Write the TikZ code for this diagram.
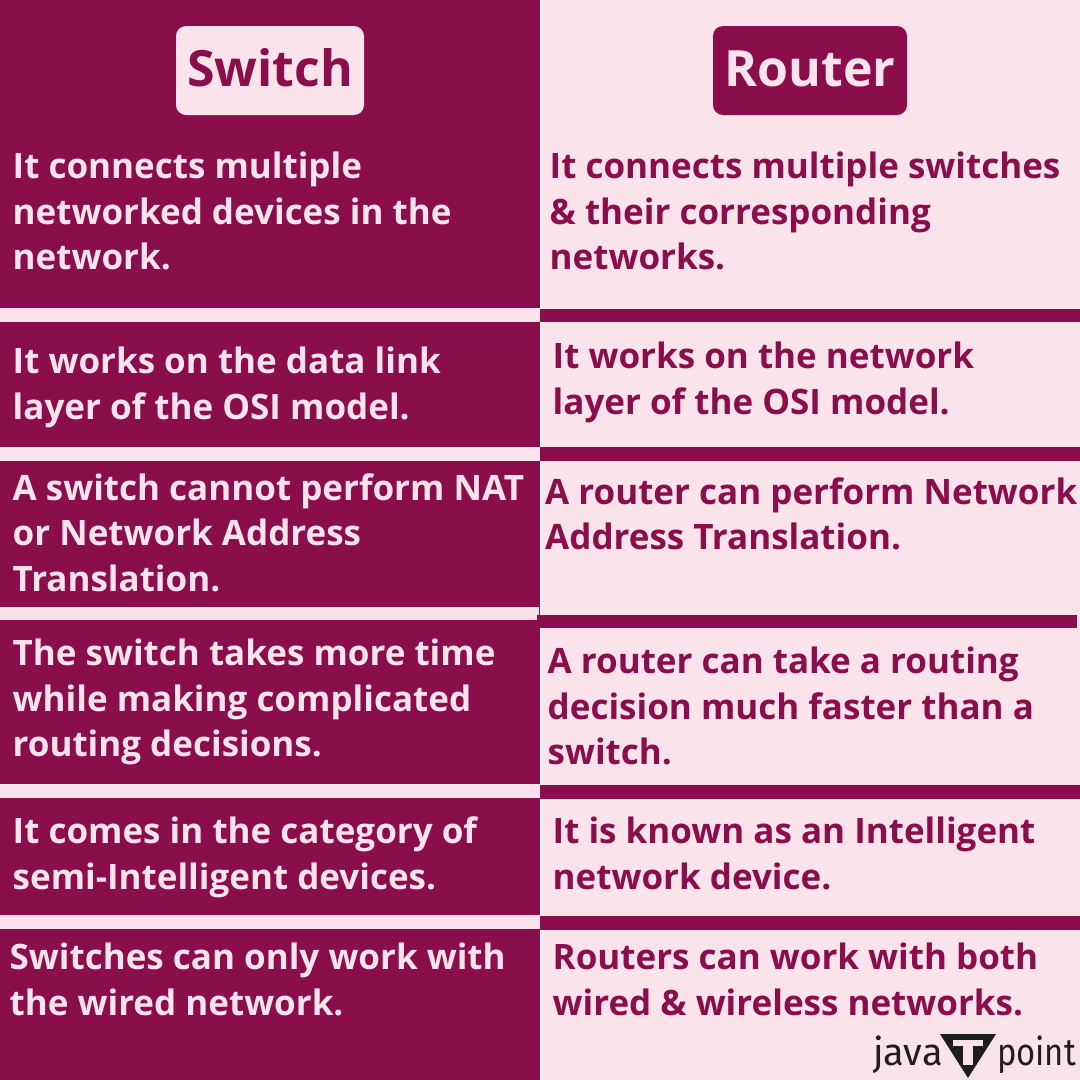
\documentclass[tikz,border=0pt]{standalone}
\usepackage{fontspec}
\setmainfont{Open Sans}
\newfontfamily\logofont{Fira Sans}
\definecolor{plum}{HTML}{8A0D4C}
\definecolor{blush}{HTML}{FBE3EB}
\definecolor{logoink}{HTML}{1E1E1E}
\tikzset{
  cell/.style={anchor=base west,align=left,inner sep=0pt,font=\fontsize{35}{45.5}\selectfont\bfseries},
  leftcell/.style={cell,text=blush},
  rightcell/.style={cell,text=plum},
  headbox/.style={rounded corners=10pt,inner sep=0pt,minimum height=89pt,text height=37pt,text depth=5pt,font=\fontsize{50}{56}\selectfont\bfseries},
  logotext/.style={inner sep=0pt,anchor=base west,text=logoink,font=\fontsize{38}{40}\logofont\selectfont}
}
\begin{document}
\begin{tikzpicture}[x=1pt,y=-1pt]
  \useasboundingbox (0,0) rectangle (1080,1080);

  % columns
  \fill[white] (0,0) rectangle (1080,1080);
  \fill[plum] (0,0) rectangle (540,1080);
  \fill[blush] (541,0) rectangle (1080,1080);

  % bars between the rows
  \fill[blush] (0,308) rectangle (540,322);
  \fill[blush] (0,447) rectangle (540,461);
  \fill[blush] (0,607) rectangle (539,620);
  \fill[blush] (0,784) rectangle (540,798);
  \fill[blush] (0,915) rectangle (540,929);

  \fill[plum] (540,309) rectangle (1080,322);
  \fill[plum] (540,447) rectangle (1080,461);
  \fill[plum] (537,615) rectangle (1077,628);
  \fill[plum] (540,785) rectangle (1080,799);
  \fill[plum] (540,916) rectangle (1080,930);

  % headings
  \node (SWITCH) at (270,70.5) [headbox,fill=blush,text=plum,minimum width=188pt] {Switch};
  \node (ROUTER) at (810,70.5) [headbox,fill=plum,text=blush,minimum width=194pt] {Router};

  % left column
  \node (L1) at (12.5,269.5) [leftcell] {It connects multiple\\networked devices in the\\network.};
  \node (L2) at (12.5,419) [leftcell] {It works on the data link\\layer of the OSI model.};
  \node (L3) at (12.5,591) [leftcell] {A switch cannot perform NAT\\or Network Address\\Translation.};
  \node (L4) at (12.5,756.5) [leftcell] {The switch takes more time\\while making complicated\\routing decisions.};
  \node (L5) at (12.5,889) [leftcell] {It comes in the category of\\semi-Intelligent devices.};
  \node (L6) at (9.5,1015) [leftcell] {Switches can only work with\\the wired network.};

  % right column
  \node (R1) at (549.5,269.5) [rightcell] {It connects multiple switches\\\& their corresponding\\networks.};
  \node (R2) at (552.5,414) [rightcell] {It works on the network\\layer of the OSI model.};
  \node (R3) at (545,549.5) [rightcell] {A router can perform Network\\Address Translation.};
  \node (R4) at (547.5,764.5) [rightcell] {A router can take a routing\\decision much faster than a\\switch.};
  \node (R5) at (552.5,889) [rightcell] {It is known as an Intelligent\\network device.};
  \node (R6) at (552.5,1015) [rightcell] {Routers can work with both\\wired \& wireless networks.};

  % logo
  \node (JAVA) at (873,1065) [logotext] {java};
  \node (POINT) at (997,1065) [logotext,xscale=0.86,transform shape] {point};
  \fill[logoink] (940,1034) -- (996,1034) -- (968,1078) -- cycle;
  \fill[blush] (953,1040) rectangle (983,1046);
  \fill[blush] (963,1046) rectangle (973,1065);
\end{tikzpicture}
\end{document}
